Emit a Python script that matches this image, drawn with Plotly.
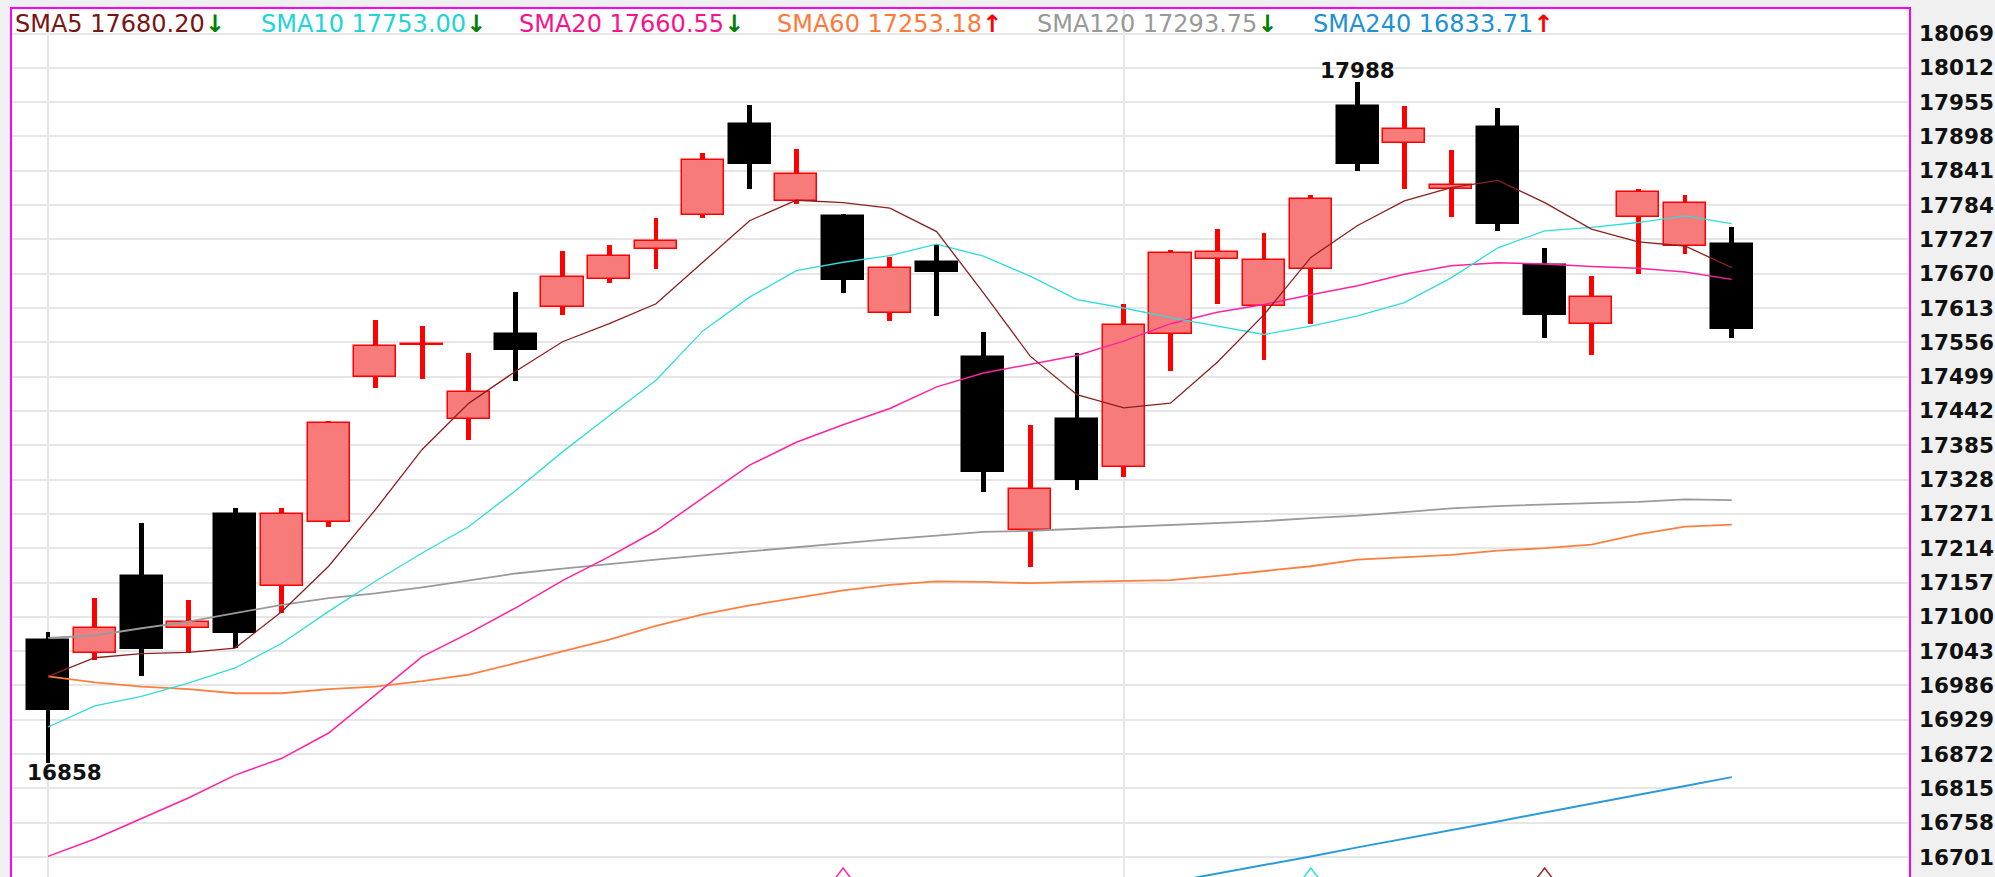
import plotly.graph_objects as go

# ---------------- data ----------------
idx = list(range(37))
opens = [17062, 17040, 17167, 17081, 17271, 17151, 17257, 17498, 17551, 17429,
         17569, 17615, 17662, 17711, 17767, 17919, 17791, 17766, 17605, 17689,
         17531, 17244, 17428, 17349, 17569, 17695, 17617, 17677, 17948, 17887,
         17810, 17914, 17685, 17587, 17765, 17716, 17720]
highs = [17075, 17131, 17256, 17128, 17281, 17281, 17425, 17593, 17583, 17538,
         17640, 17707, 17718, 17762, 17870, 17951, 17877, 17769, 17697, 17719,
         17573, 17418, 17539, 17619, 17709, 17744, 17738, 17800, 17988, 17948,
         17876, 17945, 17712, 17667, 17811, 17801, 17748]
lows = [16858, 17029, 17002, 17040, 17048, 17106, 17250, 17480, 17495, 17394,
        17491, 17602, 17654, 17677, 17762, 17811, 17786, 17638, 17592, 17599,
        17307, 17183, 17310, 17333, 17509, 17620, 17527, 17586, 17840, 17811,
        17765, 17741, 17563, 17535, 17669, 17702, 17563]
closes = [16946, 17081, 17046, 17092, 17073, 17270, 17422, 17550, 17553, 17473,
          17543, 17665, 17699, 17725, 17859, 17852, 17836, 17659, 17680, 17672,
          17341, 17312, 17328, 17585, 17704, 17706, 17693, 17794, 17852, 17911,
          17818, 17752, 17602, 17631, 17805, 17787, 17578]

sma5 = [17001, 17032, 17039, 17041, 17048, 17109, 17184, 17278, 17378, 17455,
        17508, 17557, 17587, 17620, 17689, 17758, 17792, 17788, 17779, 17740,
        17638, 17533, 17469, 17447, 17455, 17523, 17602, 17697, 17750, 17791,
        17813, 17825, 17788, 17744, 17723, 17716, 17680.20]
sma10 = [16917, 16952, 16968, 16990, 17015, 17056, 17109, 17159, 17206, 17250,
         17310, 17374, 17434, 17493, 17575, 17631, 17675, 17689, 17700, 17719,
         17699, 17666, 17627, 17613, 17597, 17583, 17569, 17583, 17600, 17622,
         17663, 17713, 17741, 17747, 17755, 17766, 17753.00]
sma20 = [16702, 16731, 16765, 16799, 16837, 16865, 16907, 16970, 17034, 17073,
         17115, 17160, 17200, 17243, 17298, 17352, 17390, 17419, 17446, 17482,
         17505, 17519, 17534, 17558, 17587, 17606, 17619, 17635, 17650, 17669,
         17683, 17688, 17686, 17682, 17679, 17673, 17660.55]
sma60 = [17001, 16991, 16984, 16980, 16973, 16973, 16980, 16984, 16993, 17004,
         17023, 17043, 17062, 17085, 17104, 17119, 17131, 17144, 17153, 17159,
         17158, 17156, 17158, 17159, 17161, 17168, 17176, 17184, 17195, 17199,
         17203, 17210, 17214, 17220, 17237, 17250, 17253.18]
sma120 = [17065, 17069, 17081, 17092, 17106, 17120, 17131, 17139, 17149, 17160,
          17172, 17180, 17188, 17195, 17202, 17209, 17216, 17222, 17229, 17235,
          17241, 17243, 17246, 17250, 17253, 17256, 17259, 17264, 17268, 17274,
          17280, 17284, 17287, 17289, 17291, 17295, 17293.75]
sma240 = [None] * 23 + [16645, 16659, 16673, 16688, 16702, 16717, 16731, 16746,
                        16760, 16775, 16790, 16804, 16819, 16833.71]

ma_names = ["SMA5", "SMA10", "SMA20", "SMA60", "SMA120", "SMA240"]
ma_last = ["17680.20", "17753.00", "17660.55", "17253.18", "17293.75", "16833.71"]
ma_dir = ["down", "down", "down", "up", "down", "up"]
ma_colors = ["#7B1414", "#22D3D8", "#F5148C", "#FF7A3A", "#999999", "#1E90D6"]
ma_line_colors = ["#8B2020", "#30DCDC", "#FF22A0", "#FF7F40", "#9A9A9A", "#2A9AD8"]

signal_idx = [17, 27, 32]
signal_val = [16661, 16661, 16661]
signal_colors = ["#FF2AA0", "#30E0E0", "#9B2A2A"]

low_label = ("16858", 0, 16858)
high_label = ("17988", 28, 17988)

ytick_vals = [16701, 16758, 16815, 16872, 16929, 16986, 17043, 17100, 17157,
              17214, 17271, 17328, 17385, 17442, 17499, 17556, 17613, 17670,
              17727, 17784, 17841, 17898, 17955, 18012, 18069]
vgrid_idx = [0, 23]

# ---------------- figure ----------------
UP_FILL, UP_LINE, DOWN = "#F77B7B", "#FF0000", "#000000"
is_up = [c >= o for o, c in zip(opens, closes)]

fig = go.Figure()

# wicks
fig.add_trace(go.Bar(
    x=idx, y=[h - l for h, l in zip(highs, lows)], base=lows, width=0.105,
    marker=dict(color=[UP_LINE if u else DOWN for u in is_up], line=dict(width=0)),
    hoverinfo="skip", showlegend=False))

# bodies
fig.add_trace(go.Bar(
    x=idx, y=[max(abs(c - o), 1.5) for o, c in zip(opens, closes)],
    base=[min(o, c) for o, c in zip(opens, closes)], width=0.9,
    marker=dict(color=[UP_FILL if u else DOWN for u in is_up],
                line=dict(color=[UP_LINE if u else DOWN for u in is_up], width=1.5)),
    hoverinfo="skip", showlegend=False))

ma_series = [sma5, sma10, sma20, sma60, sma120, sma240]
ma_widths = [1.3, 1.3, 1.5, 1.8, 1.8, 2.0]
for name, ser, col, w in reversed(list(zip(ma_names, ma_series, ma_line_colors, ma_widths))):
    fig.add_trace(go.Scatter(x=idx, y=ser, mode="lines", name=name,
                             line=dict(color=col, width=w), hoverinfo="skip",
                             showlegend=False))

fig.add_trace(go.Scatter(
    x=signal_idx, y=signal_val, mode="markers", cliponaxis=True,
    marker=dict(symbol="triangle-up-open", size=26, color=signal_colors,
                line=dict(color=signal_colors, width=1.5)),
    hoverinfo="skip", showlegend=False))

# high / low labels
lab_font = dict(family="DejaVu Sans", size=21.5, color="#111111", weight="bold")
fig.add_annotation(x=low_label[1], y=low_label[2], text=low_label[0], showarrow=False,
                   xanchor="center", yanchor="top", xshift=16, yshift=5, font=lab_font)
fig.add_annotation(x=high_label[1], y=high_label[2], text=high_label[0], showarrow=False,
                   xanchor="center", yanchor="bottom", yshift=-3, font=lab_font)

# moving-average header
legend_x = [13, 259, 517, 775, 1035, 1311]
PL, PR = 12, 1909
for xpix, nm, val, d, col in zip(legend_x, ma_names, ma_last, ma_dir, ma_colors):
    arrow = ('<span style="color:#008000">↓</span>' if d == "down"
             else '<span style="color:#FF0000">↑</span>')
    fig.add_annotation(
        xref="paper", yref="paper", x=(xpix - PL) / (PR - PL), y=(877 - 24) / 868,
        xanchor="left", yanchor="middle", showarrow=False,
        text=f"{nm} {val}<b>{arrow}</b>",
        font=dict(family="DejaVu Sans", size=24, color=col))

fig.update_layout(
    width=1995, height=877,
    margin=dict(l=PL, r=1995 - PR, t=9, b=0, pad=0),
    paper_bgcolor="#F0F0F0", plot_bgcolor="#FFFFFF",
    barmode="overlay", bargap=0, showlegend=False,
    xaxis=dict(range=[-0.77, 39.79], tickvals=vgrid_idx, showticklabels=False,
               showgrid=True, gridcolor="#E6E6E6", gridwidth=1.5, zeroline=False,
               showline=True, side="top", linecolor="#FF00FF", linewidth=1.5,
               ticks="", fixedrange=True),
    yaxis=dict(range=[16667.8, 18109.7], side="right", tickvals=ytick_vals,
               ticktext=[str(v) for v in ytick_vals],
               showgrid=True, gridcolor="#E6E6E6", gridwidth=2, zeroline=False,
               showline=True, mirror=True, linecolor="#FF00FF", linewidth=1.5,
               ticks="", ticklabelstandoff=4,
               tickfont=dict(family="DejaVu Sans", size=21.5, color="#111111",
                             weight="bold")),
)

fig.write_html(
    "out.html",
    config={"displayModeBar": False},
    post_script="document.body.style.margin='0';"
                "document.body.style.overflow='hidden';"
                "document.body.style.background='#F0F0F0';")
